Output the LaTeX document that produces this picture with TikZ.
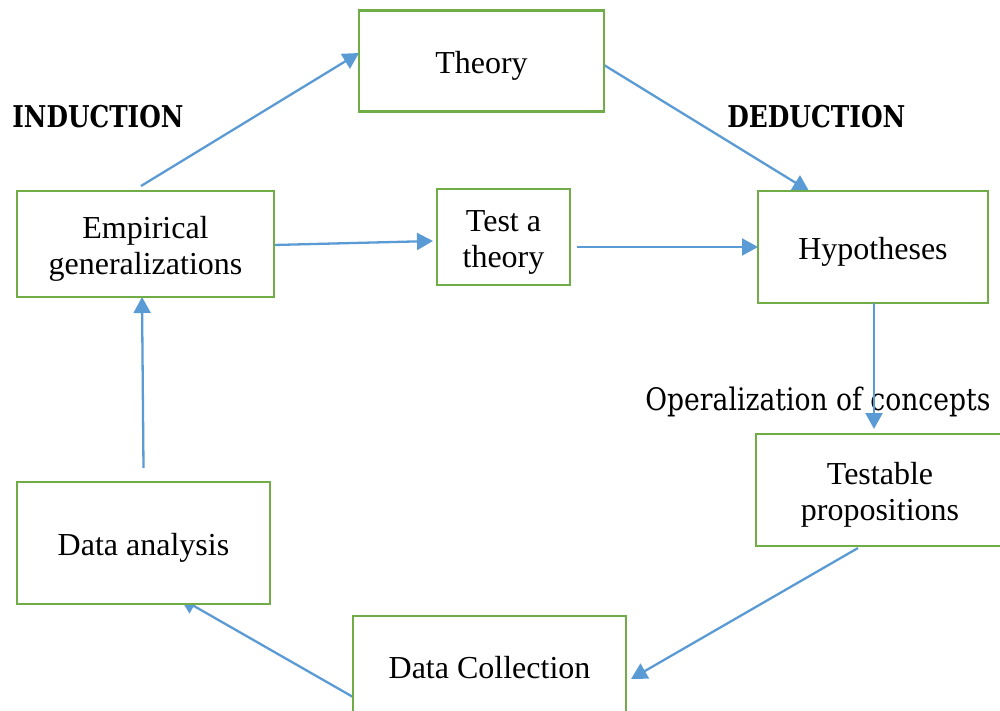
\documentclass[tikz,border=0pt]{standalone}
\usepackage{fontspec}
\usepackage{graphicx}
\setmainfont{Liberation Serif}
\newfontfamily\labelfont{DejaVu Serif}
\usetikzlibrary{arrows.meta,calc}
\pgfdeclarelayer{bg}
\pgfsetlayers{bg,main}
\definecolor{boxgreen}{RGB}{112,173,71}
\definecolor{flowblue}{RGB}{91,155,213}
% struts that fix the top of the first line and the bottom of the last line
\newcommand\uprule{\rule{0pt}{1.05em}}
\newcommand\downrule{\rule[-0.24em]{0pt}{0pt}}
\begin{document}
\begin{tikzpicture}[x=0.5pt,y=-0.5pt,
  box/.style={draw=boxgreen, line width=1.4pt, fill=white, inner sep=0pt,
    outer sep=0pt, align=center, font=\fontsize{16}{18}\selectfont},
  flow/.style={draw=flowblue, line width=1.15pt,
    -{Triangle[length=8pt,width=8.5pt]}},
  phase/.style={inner sep=0pt, font=\labelfont\bfseries\fontsize{15}{18}\selectfont}]
\useasboundingbox (0,0) rectangle (1000,711);
\clip (0,0) rectangle (1000,711);

% boxes
\node[box, minimum width=122.5pt, minimum height=50.75pt] (theory) at (481.5,61)
  {\uprule Theory\downrule};
\node[box, minimum width=128.5pt, minimum height=53pt] (emp) at (145.5,244)
  {\uprule Empirical\\ generalizations\downrule};
\node[box, minimum width=66.5pt, minimum height=48pt] (test) at (503.5,237)
  {\uprule Test a\\ theory\downrule};
\node[box, minimum width=115pt, minimum height=56pt] (hyp) at (873,247)
  {\uprule Hypotheses\downrule};
\node[box, minimum width=124pt, minimum height=56pt] (prop) at (880,490)
  {\uprule Testable\\ propositions\downrule};
\node[box, minimum width=126.5pt, minimum height=61pt] (anal) at (143.5,543)
  {\uprule Data analysis\downrule};
\node[box, minimum width=136.5pt, minimum height=50pt] (coll) at (489.5,666)
  {\uprule Data Collection\downrule};

% phase labels
\node[phase, anchor=west] (ind) at (12,117) {\resizebox{85.5pt}{\height}{INDUCTION}};
\node[phase, anchor=west] (ded) at (727,117) {\resizebox{89pt}{\height}{DEDUCTION}};
\node[inner sep=0pt, anchor=base west, font=\labelfont\fontsize{15.5}{18}\selectfont] (oper)
  at (645,410) {\resizebox{172.5pt}{\height}{Operalization of concepts}};

% connectors
\begin{pgfonlayer}{bg}
\draw[flow] ($(emp.north)+(-4.5,-5)$) -- ($(theory.west)+(0,-8)$);
\draw[flow] ($(theory.east)+(0,4)$) -- ($(hyp.north)+(-64,0)$);
\draw[flow] ($(emp.east)+(0,1)$) -- ($(test.west)+(-4,4)$);
\draw[flow] ($(test.east)+(7,10)$) -- (hyp.west);
\draw[flow] ($(prop.south)+(-22,2)$) -- ($(coll.east)+(5,13)$);
\draw[flow] ($(coll.west)+(0,31)$) -- ($(anal.south)+(36.5,-6)$);
\draw[flow] ($(anal.north)+(0,-14)$) -- ($(emp.south)+(-3.5,0)$);
\end{pgfonlayer}
\draw[flow] ($(hyp.south)+(1,0)$) -- ($(prop.north)+(-6,-5)$);
\end{tikzpicture}
\end{document}
